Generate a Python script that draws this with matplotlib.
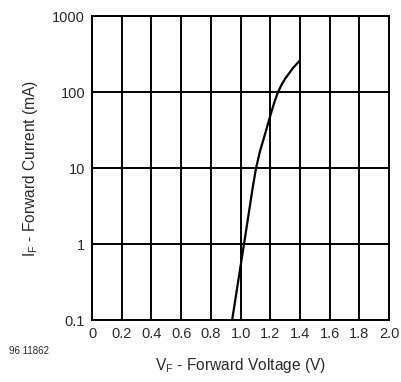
import matplotlib
matplotlib.use("Agg")
import matplotlib.pyplot as plt
from matplotlib.ticker import FixedLocator, NullLocator

# Forward characteristic of the diode
vf_volts = [0.943, 0.98, 1.016, 1.05, 1.08, 1.104, 1.13, 1.15, 1.175, 1.2,
            1.225, 1.25, 1.275, 1.3, 1.35, 1.396]
if_milliamps = [0.1, 0.29, 0.82, 2.2, 5.3, 10, 16.5, 22.4, 33, 49,
                71, 98, 124, 150, 204, 257]

x_ticks = [0, 0.2, 0.4, 0.6, 0.8, 1.0, 1.2, 1.4, 1.6, 1.8, 2.0]
x_tick_labels = ["0", "0.2", "0.4", "0.6", "0.8", "1.0", "1.2", "1.4", "1.6", "1.8", "2.0"]
y_ticks = [0.1, 1, 10, 100, 1000]
y_tick_labels = ["0.1", "1", "10", "100", "1000"]

plt.rcParams["font.family"] = ["Liberation Sans", "DejaVu Sans"]
text_color = "#2a2a2a"

fig = plt.figure(figsize=(4.02, 3.82), dpi=100)
ax = fig.add_axes([0.229, 0.162, 0.739, 0.796])

ax.plot(vf_volts, if_milliamps, color="black", linewidth=1.6,
        solid_capstyle="round", solid_joinstyle="round")

ax.set_yscale("log")
ax.set_xlim(0, 2.0)
ax.set_ylim(0.1, 1000)
ax.xaxis.set_major_locator(FixedLocator(x_ticks))
ax.set_xticklabels(x_tick_labels)
ax.yaxis.set_major_locator(FixedLocator(y_ticks))
ax.yaxis.set_minor_locator(NullLocator())
ax.set_yticklabels(y_tick_labels)
ax.tick_params(axis="both", length=0, labelsize=10.5, colors=text_color, pad=5)

ax.grid(True, which="major", color="black", linewidth=1.4)
for s in ax.spines.values():
    s.set_linewidth(1.4)
    s.set_color("black")

ax.set_xlabel("V$_\\mathregular{F}$ - Forward Voltage (V)", fontsize=11.2,
              color=text_color, labelpad=11)
ax.set_ylabel("I$_\\mathregular{F}$ - Forward Current (mA)", fontsize=11.2,
              color=text_color, labelpad=9)
fig.text(0.022, 0.072, "96 11862", fontsize=7, color=text_color)

fig.savefig("out.png", dpi=100)
